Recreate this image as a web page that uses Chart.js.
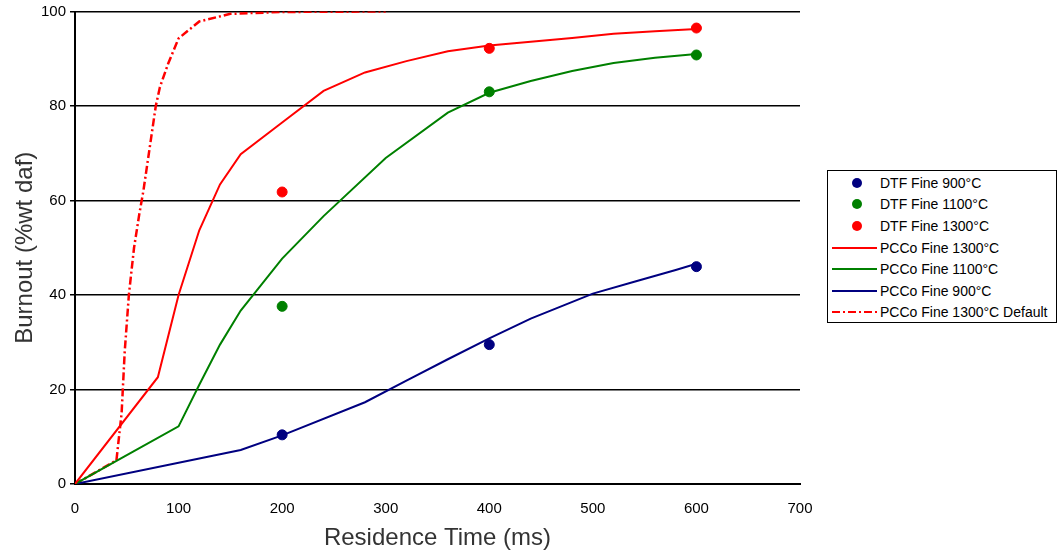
<!DOCTYPE html>
<html>
<head>
<meta charset="utf-8">
<script src="https://cdn.jsdelivr.net/npm/chart.js@4"></script>
<style>
  body{margin:0;background:#fff;font-family:Arial,"Liberation Sans",sans-serif;}
  #wrap{position:relative;width:1061px;height:551px;}
  #legend{position:absolute;left:827px;top:170px;width:230px;height:153px;border:1px solid #000;background:#fff;box-sizing:border-box;padding-top:1px;}
  .lg{height:21.6px;display:flex;align-items:center;font-size:14px;color:#000;}
  .sym{width:50px;height:10px;position:relative;margin-left:2px;}
  .dot{position:absolute;left:22px;top:0;width:10px;height:10px;border-radius:50%;}
  .ln{position:absolute;left:2px;right:3px;top:4px;height:0;border-top:2px solid;}
</style>
</head>
<body>
<div id="wrap">
  <canvas id="c" width="1061" height="551"></canvas>
  <div id="legend"></div>
</div>
<script>
// DTF measured points
const dtfTimes = [200, 400, 600];
const dtf900  = [10.4, 29.5, 46.0];
const dtf1100 = [37.6, 83.0, 90.8];
const dtf1300 = [61.8, 92.2, 96.5];

// PCCo model curves
const pcco1300T = [0, 80, 100, 120, 140, 160, 200, 240, 280, 320, 360, 400, 440, 480, 520, 560, 600];
const pcco1300  = [0, 22.6, 40, 53.7, 63.4, 69.8, 76.5, 83.2, 87.1, 89.5, 91.6, 92.8, 93.6, 94.4, 95.3, 95.8, 96.3];
const pcco1100T = [0, 100, 120, 140, 160, 200, 240, 300, 360, 400, 440, 480, 520, 560, 600];
const pcco1100  = [0, 12.2, 21, 29.5, 36.7, 47.7, 56.7, 69, 78.6, 82.8, 85.3, 87.4, 89.1, 90.2, 91];
const pcco900T  = [0, 160, 200, 280, 320, 360, 400, 440, 500, 540, 580, 600];
const pcco900   = [0, 7.2, 10.3, 17.3, 21.9, 26.4, 30.8, 35, 40.3, 42.8, 45.3, 46.6];
const defT      = [0, 40, 45, 48, 52, 57, 62, 66, 70, 74, 78, 82, 90, 100, 120, 150, 200, 300];
const def1300   = [0, 5, 15, 28, 40, 50, 57, 62, 68, 74, 80, 84, 89, 94.3, 97.9, 99.5, 99.9, 100];

const xTicks = [0, 100, 200, 300, 400, 500, 600, 700];
const yTicks = [0, 20, 40, 60, 80, 100];

const NAVY='#000080', GREEN='#008000', RED='#ff0000';
const pts=(xs,ys)=>xs.map((x,i)=>({x:x,y:ys[i]}));

const datasets=[
  {label:'DTF Fine 900°C', data:pts(dtfTimes,dtf900), showLine:false, pointRadius:5, backgroundColor:NAVY, borderColor:NAVY, kind:'dot'},
  {label:'DTF Fine 1100°C', data:pts(dtfTimes,dtf1100), showLine:false, pointRadius:5, backgroundColor:GREEN, borderColor:GREEN, kind:'dot'},
  {label:'DTF Fine 1300°C', data:pts(dtfTimes,dtf1300), showLine:false, pointRadius:5, backgroundColor:RED, borderColor:RED, kind:'dot'},
  {label:'PCCo Fine 1300°C', data:pts(pcco1300T,pcco1300), borderColor:RED, borderWidth:2, pointRadius:0, kind:'line'},
  {label:'PCCo Fine 1100°C', data:pts(pcco1100T,pcco1100), borderColor:GREEN, borderWidth:2, pointRadius:0, kind:'line'},
  {label:'PCCo Fine 900°C', data:pts(pcco900T,pcco900), borderColor:NAVY, borderWidth:2, pointRadius:0, kind:'line'},
  {label:'PCCo Fine 1300°C Default', data:pts(defT,def1300), borderColor:RED, borderWidth:2.5, borderDash:[8,3,2,3], pointRadius:0, kind:'dash'}
];

new Chart(document.getElementById('c'),{
  type:'line',
  data:{datasets},
  options:{
    responsive:false, animation:false,
    layout:{padding:{top:7,right:261,left:0,bottom:0}},
    plugins:{legend:{display:false},tooltip:{enabled:false}},
    elements:{line:{tension:0}},
    scales:{
      x:{
        type:'linear', min:0, max:700,
        afterBuildTicks:s=>{s.ticks=xTicks.map(v=>({value:v}));},
        afterFit:s=>{s.height=67;},
        grid:{display:false},
        border:{color:'#000',width:2},
        ticks:{color:'#000',font:{family:'Arial',size:15},padding:8,maxRotation:0},
        title:{display:true,text:'Residence Time (ms)',color:'#333',font:{family:'Arial',size:24,lineHeight:1},padding:{top:0,bottom:1}}
      },
      y:{
        min:0, max:100,
        afterBuildTicks:s=>{s.ticks=yTicks.map(v=>({value:v}));},
        afterFit:s=>{s.width=75;},
        grid:{color:'#000',lineWidth:1.5,tickLength:5,drawTicks:true,tickColor:'#000'},
        border:{color:'#000',width:2},
        ticks:{color:'#000',font:{family:'Arial',size:15,lineHeight:1},padding:4},
        title:{display:true,text:'Burnout (%wt daf)',color:'#333',font:{family:'Arial',size:24,lineHeight:1},padding:{top:13,bottom:0}}
      }
    }
  }
});

// legend box
const lg=document.getElementById('legend');
datasets.forEach(d=>{
  const row=document.createElement('div'); row.className='lg';
  const sym=document.createElement('div'); sym.className='sym';
  if(d.kind==='dot'){
    const s=document.createElement('div'); s.className='dot'; s.style.background=d.backgroundColor; sym.appendChild(s);
  }else{
    const s=document.createElement('div'); s.className='ln'; s.style.borderTopColor=d.borderColor;
    if(d.kind==='dash'){s.style.borderTop='none';s.style.height='2px';s.style.background='repeating-linear-gradient(90deg,'+RED+' 0 8px,transparent 8px 11px,'+RED+' 11px 13px,transparent 13px 16px)';}
    sym.appendChild(s);
  }
  const t=document.createElement('span'); t.textContent=d.label;
  row.appendChild(sym); row.appendChild(t); lg.appendChild(row);
});
</script>
</body>
</html>
